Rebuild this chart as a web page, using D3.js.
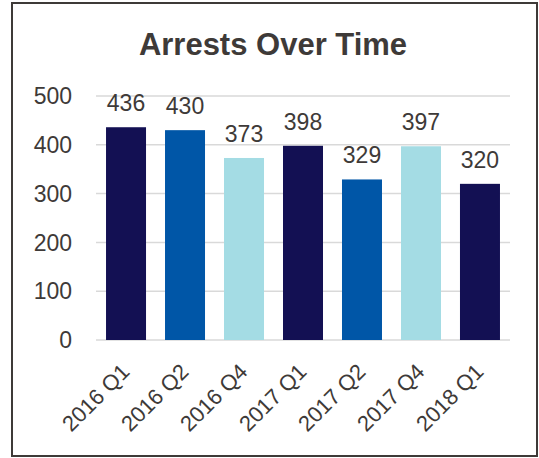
<!DOCTYPE html>
<html><head><meta charset="utf-8">
<script src="https://cdn.jsdelivr.net/npm/d3@7"></script>
<style>body{margin:0;background:#fff}svg{display:block}text{font-family:"Liberation Sans",Arial,sans-serif;fill:#3e3a38}</style>
</head><body>
<svg id="c" width="539" height="458"></svg>
<script>
const categories = ["2016 Q1","2016 Q2","2016 Q4","2017 Q1","2017 Q2","2017 Q4","2018 Q1"];
const values = [436,430,373,398,329,397,320];
const colors = ["#131053","#0056A7","#A4DCE4","#131053","#0056A7","#A4DCE4","#131053"];
const yTicks = [0,100,200,300,400,500];
const title = "Arrests Over Time";

const svg = d3.select("#c");
svg.append("rect").attr("x",12).attr("y",3).attr("width",525).attr("height",453)
  .attr("fill","none").attr("stroke","#3e3a38").attr("stroke-width",2);

svg.append("text").attr("x",273).attr("y",55).attr("text-anchor","middle")
  .attr("font-size",31).attr("font-weight","bold").text(title);

const x = d3.scaleBand().domain(categories).range([96,510]).paddingInner(0.322).paddingOuter(0.17);
const y = d3.scaleLinear().domain([0,500]).range([340,96]);

const g = svg.append("g");
g.selectAll("line.grid").data(yTicks).join("line").attr("class","grid")
  .attr("x1",96).attr("x2",510).attr("y1",d=>y(d)).attr("y2",d=>y(d))
  .attr("stroke","#d9d9d9").attr("stroke-width",1.5);

g.selectAll("text.yt").data(yTicks).join("text").attr("class","yt")
  .attr("x",72).attr("y",d=>y(d)).attr("dy","0.36em").attr("text-anchor","end")
  .attr("font-size",23).text(d=>d);

g.selectAll("rect.bar").data(values).join("rect").attr("class","bar")
  .attr("x",(d,i)=>x(categories[i])).attr("width",x.bandwidth())
  .attr("y",d=>y(d)).attr("height",d=>y(0)-y(d)).attr("fill",(d,i)=>colors[i]);

g.selectAll("text.val").data(values).join("text").attr("class","val")
  .attr("x",(d,i)=>x(categories[i])+x.bandwidth()/2).attr("y",d=>y(d)-16)
  .attr("text-anchor","middle").attr("font-size",23).text(d=>d);

g.selectAll("text.xl").data(categories).join("text").attr("class","xl")
  .attr("transform",d=>`translate(${x(d)+x.bandwidth()/2+5},373) rotate(-45)`)
  .attr("text-anchor","end").attr("font-size",22).text(d=>d);
</script>
</body></html>
